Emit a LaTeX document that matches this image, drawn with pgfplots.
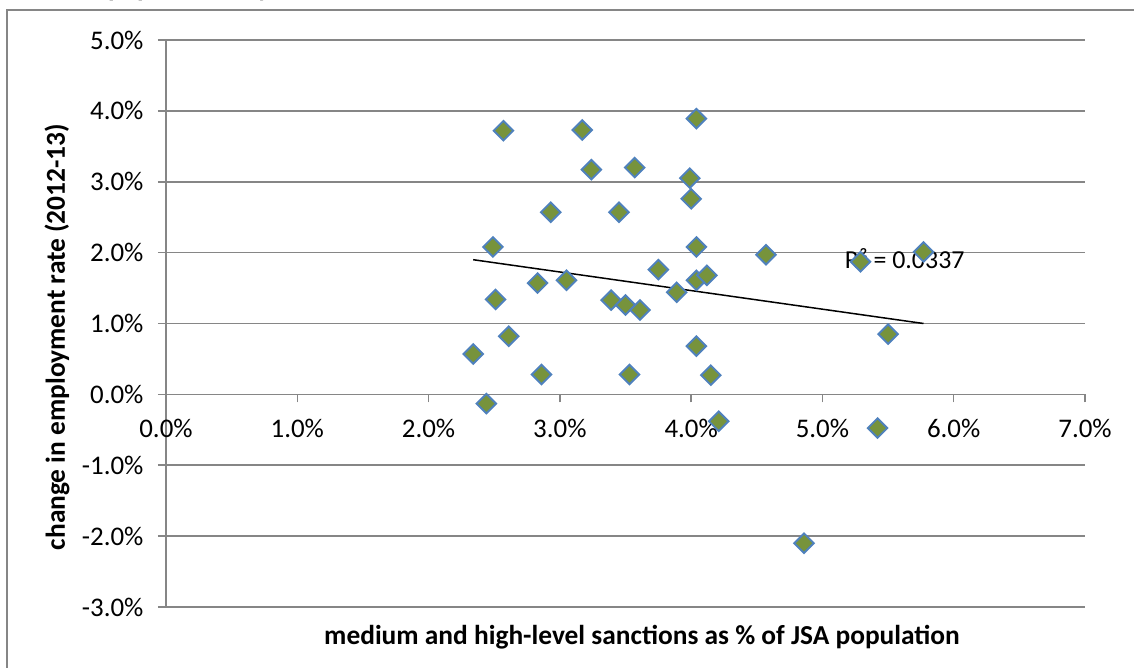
\documentclass[border=0pt]{standalone}
\usepackage{fontspec}
\setmainfont{Carlito}
\usepackage{pgfplots}
\pgfplotsset{compat=1.18}
\definecolor{gridgray}{HTML}{868686}
\definecolor{mfill}{HTML}{77933C}
\definecolor{medge}{HTML}{4F81BD}
\pgfplotstableread{
x y
2.34 0.57
2.44 -0.13
2.49 2.08
2.51 1.34
2.57 3.72
2.61 0.82
2.83 1.57
2.86 0.28
2.93 2.57
3.05 1.61
3.17 3.73
3.24 3.17
3.39 1.33
3.45 2.57
3.50 1.26
3.53 0.28
3.57 3.20
3.61 1.19
3.75 1.76
3.89 1.44
3.99 3.05
4.00 2.76
4.04 3.89
4.04 2.08
4.04 1.61
4.04 0.68
4.12 1.68
4.15 0.27
4.21 -0.38
4.57 1.97
4.86 -2.10
5.29 1.87
5.42 -0.475
5.50 0.85
5.77 2.01
}\datatable
\begin{document}
\begin{tikzpicture}
\useasboundingbox (0,0) rectangle (1134bp,668bp);
\draw[gridgray, line width=1.5bp] (7bp,-20bp) -- (7bp,658bp) -- (1160bp,658bp);
\node[anchor=base west, font=\fontsize{27}{32}\selectfont\bfseries, inner sep=0] at (108bp,671bp) {population, by};
\begin{axis}[
  at={(166bp,61bp)}, anchor=south west,
  scale only axis, width=919bp, height=567bp,
  xmin=0, xmax=7, ymin=-3, ymax=5,
  axis x line*=middle, axis y line*=left,
  hide obscured x ticks=false, hide obscured y ticks=false,
  xtick={0,1,2,3,4,5,6,7},
  xticklabels={0.0\%,1.0\%,2.0\%,3.0\%,4.0\%,5.0\%,6.0\%,7.0\%},
  ytick={-3,-2,-1,0,1,2,3,4,5},
  yticklabels={-3.0\%,-2.0\%,-1.0\%,0.0\%,1.0\%,2.0\%,3.0\%,4.0\%,5.0\%},
  ymajorgrids,
  tick align=outside,
  major tick length=8bp,
  tick style={gridgray, line width=1.5bp},
  axis line style={gridgray, line width=1.5bp},
  grid style={gridgray, line width=1.5bp},
  ticklabel style={font=\fontsize{27}{32}\selectfont, text=black},
  yticklabel style={xshift=-11bp},
  xticklabel style={yshift=-13bp},
  clip=false,
]
\addplot[black, line width=1.5bp] coordinates {(2.34,1.90) (5.77,1.00)};
\addplot[only marks, mark=square*, mark size=6.9bp,
  mark options={rotate=45, fill=mfill, draw=medge, line width=1.9bp}] table[x=x,y=y] {\datatable};
\node[anchor=west, inner sep=0, font=\fontsize{26}{30}\selectfont] at (axis cs:5.17,1.92) {R² = 0.0337};
\end{axis}
\node[font=\fontsize{27.5}{32}\selectfont\bfseries] at (642bp,31bp) {medium and high-level sanctions as \% of JSA population};
\node[rotate=90, font=\fontsize{27.5}{32}\selectfont\bfseries] at (57bp,331bp) {change in employment rate (2012-13)};
\end{tikzpicture}
\end{document}
